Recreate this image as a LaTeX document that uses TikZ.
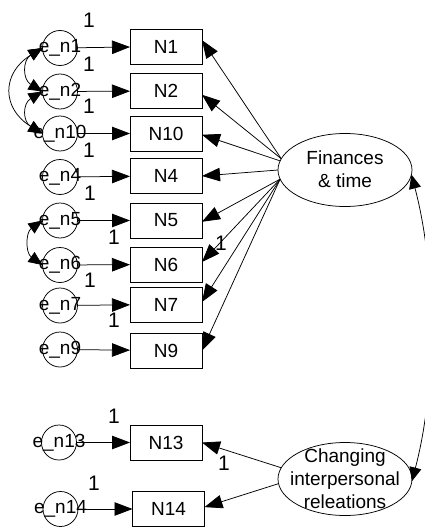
\documentclass[tikz,border=0pt]{standalone}
\usepackage{fontspec}
\setmainfont{Liberation Sans}
\usetikzlibrary{arrows.meta,shapes.geometric}
\begin{document}
\begin{tikzpicture}[x=1pt,y=-1pt,line width=0.75pt,
  every node/.style={font=\fontsize{19}{23}\selectfont},
  obs/.style={draw, rectangle, minimum width=72pt, minimum height=35pt, inner sep=0pt, outer sep=0pt},
  errc/.style={draw, circle, minimum size=35pt, inner sep=0pt, outer sep=0pt},
  latent/.style={draw, ellipse, minimum width=134pt, minimum height=73pt, inner sep=0pt, outer sep=0pt},
  txt/.style={inner sep=0pt},
  one/.style={inner sep=0pt, font=\fontsize{21}{24}\selectfont},
  reg/.style={-{Triangle[length=18pt,width=13.5pt]}},
  cov/.style={{Triangle[length=14pt,width=12pt]}-{Triangle[length=14pt,width=12pt]}},
]
\useasboundingbox (0,0) rectangle (425,527);

% observed indicators
\node[obs] (N1)  at (166,46.5)  {N1};
\node[obs] (N2)  at (166,91)    {N2};
\node[obs] (N10) at (166,133.5) {N10};
\node[obs] (N4)  at (166,176)   {N4};
\node[obs] (N5)  at (166,220.5) {N5};
\node[obs] (N6)  at (166,264.5) {N6};
\node[obs] (N7)  at (166,304.5) {N7};
\node[obs] (N9)  at (166,350.5) {N9};
\node[obs] (N13) at (166,442.5) {N13};
\node[obs] (N14) at (168.5,509) {N14};

% error terms
\node[errc] (e1)  at (60,48)    {};
\node[errc] (e2)  at (60,91.5)  {};
\node[errc] (e10) at (60,133.5) {};
\node[errc] (e4)  at (60,177)   {};
\node[errc] (e5)  at (60,220.5) {};
\node[errc] (e6)  at (60,265)   {};
\node[errc] (e7)  at (60,305.5) {};
\node[errc] (e9)  at (60,349.5) {};
\node[errc] (e13) at (59,442.5) {};
\node[errc] (e14) at (60.5,509) {};
\node[txt] (te1)  at (e1)  {e\_n1};
\node[txt] (te2)  at (e2)  {e\_n2};
\node[txt] (te10) at (e10) {e\_n10};
\node[txt] (te4)  at (e4)  {e\_n4};
\node[txt] (te5)  at (e5)  {e\_n5};
\node[txt] (te6)  at (e6)  {e\_n6};
\node[txt] (te7)  at (e7)  {e\_n7};
\node[txt] (te9)  at (e9)  {e\_n9};
\node[txt] (te13) at (e13) {e\_n13};
\node[txt] (te14) at (e14) {e\_n14};

% latent factors
\node[latent] (fin) at (345,170) {};
\node[latent] (chg) at (345,479) {};
\node[txt, align=center] (fint) at (345,169) {Finances\\\& time};
\node[txt, align=center] (chgt) at (345,479) {Changing\\interpersonal\\releations};

% error paths
\draw[reg] (e1)  -- (N1);
\draw[reg] (e2)  -- (N2);
\draw[reg] (e10) -- (N10);
\draw[reg] (e4)  -- (N4);
\draw[reg] (e5)  -- (N5);
\draw[reg] (e6)  -- (N6);
\draw[reg] (e7)  -- (N7);
\draw[reg] (e9)  -- (N9);
\draw[reg] (e13) -- (N13);
\draw[reg] (e14) -- (N14);

% loadings
\draw[reg] (fin.170) -- (N1.10);
\draw[reg] (fin.170) -- (N2.-6);
\draw[reg] (fin.172) -- (N10.-2);
\draw[reg] (fin.180) -- (N4.east);
\draw[reg] (fin.188) -- (N5.-2);
\draw[reg] (fin.188) -- (N6.4);
\draw[reg] (fin.188) -- (N7.4);
\draw[reg] (fin.188) -- (N9.east);
\draw[reg] (chg.170) -- (N13.east);
\draw[reg] (chg.184) -- (N14.3);

% covariances
\draw[cov] (e1.west) .. controls +(-20,12) and +(-20,-12) .. (e2.west);
\draw[cov] (e2.west) .. controls +(-20,12) and +(-20,-12) .. (e10.west);
\draw[cov] (e1.west) .. controls +(-41,25) and +(-41,-25) .. (e10.west);
\draw[cov] (e5.west) .. controls +(-17,12) and +(-17,-12) .. (e6.west);
\draw[cov] (fin.-4) .. controls +(25,95) and +(25,-95) .. (chg.-2);

% fixed parameters
\node[one] (l1)  at (89,20)   {1};
\node[one] (l2)  at (89,64)   {1};
\node[one] (l3)  at (89,106)  {1};
\node[one] (l4)  at (89,150)  {1};
\node[one] (l5)  at (90,193)  {1};
\node[one] (l6)  at (114,237) {1};
\node[one] (l7)  at (90,280)  {1};
\node[one] (l8)  at (114,320) {1};
\node[one] (l9)  at (221,243) {1};
\node[one] (l10) at (114,416) {1};
\node[one] (l11) at (94,483)  {1};
\node[one] (l12) at (224,463) {1};
\end{tikzpicture}
\end{document}
